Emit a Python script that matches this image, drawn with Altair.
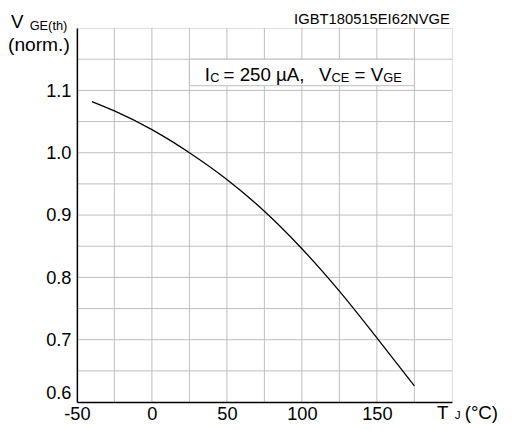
import altair as alt
import pandas as pd

# Curve data
temps = [-40, -25, 0, 25, 50, 75, 100, 125, 150, 175]
vth_norm = [1.082, 1.067, 1.037, 1.000, 0.957, 0.906, 0.846, 0.778, 0.703, 0.626]

# Axis ticks (labels) and interior grid lines
x_ticks = [-50, 0, 50, 100, 150]
y_ticks = [0.6, 0.7, 0.8, 0.9, 1.0, 1.1]
x_grid = [-25, 0, 25, 50, 75, 100, 125, 150, 175]
y_grid = [0.65, 0.7, 0.75, 0.8, 0.85, 0.9, 0.95, 1.0, 1.05, 1.1, 1.15]

# Condition box (data coords)
box_x = [25]
box_x2 = [175]
box_y = [1.1075]
box_y2 = [1.15]

FONT = "Liberation Sans"
GRID = "#bdbdbd"

df = pd.DataFrame({"T": temps, "V": vth_norm})
box_df = pd.DataFrame({"T": box_x, "T2": box_x2, "V": box_y, "V2": box_y2})
xg_df = pd.DataFrame({"T": x_grid})
yg_df = pd.DataFrame({"V": y_grid})

x_scale = alt.Scale(domain=[-50, 200], nice=False, zero=False)
y_scale = alt.Scale(domain=[0.6, 1.2], nice=False, zero=False)

x_axis = alt.Axis(
    values=x_ticks,
    labelExpr="datum.value < 0 ? '-' + format(-datum.value, 'd') : format(datum.value, 'd')",
    title=None, grid=False, ticks=False, domainColor="black", domainWidth=1.5,
    labelFont=FONT, labelFontSize=18.5, labelColor="black", labelPadding=3,
    labelOverlap=False, labelFlush=False, zindex=1,
)
y_axis = alt.Axis(
    values=y_ticks, format=".1f",
    title=None, grid=False, ticks=False, domainColor="black", domainWidth=1.5,
    labelFont=FONT, labelFontSize=18.5, labelColor="black", labelPadding=6,
    labelOverlap=False, labelFlush=True, zindex=1,
)

X = alt.X("T:Q", scale=x_scale, axis=x_axis)
Y = alt.Y("V:Q", scale=y_scale, axis=y_axis)

xgrid = alt.Chart(xg_df).mark_rule(color=GRID, strokeWidth=1).encode(x=X)
ygrid = alt.Chart(yg_df).mark_rule(color=GRID, strokeWidth=1).encode(y=Y)

box = alt.Chart(box_df).mark_rect(fill="white", stroke=GRID, strokeWidth=1).encode(
    x=X, x2="T2:Q", y=Y, y2="V2:Q",
)

line = alt.Chart(df).mark_line(color="black", strokeWidth=1.3, interpolate="monotone").encode(
    x=X, y=Y,
)


def txt(s, x, y, size, align="left"):
    return alt.Chart(alt.Data(values=[{}])).mark_text(
        text=s, font=FONT, fontSize=size, align=align, baseline="alphabetic", color="black"
    ).encode(x=alt.value(x), y=alt.value(y))


texts = [
    txt("V", -67, 0, 19),
    txt("GE(th)", -48, 2, 13),
    txt("(norm.)", -70, 23, 19.5),
    txt("IGBT180515EI62NVGE", 379, -4, 15, align="right"),
    txt("I", 130, 54, 19),
    txt("C", 135.5, 55, 13),
    txt("= 250 µA,", 149, 54, 19),
    txt("V", 246, 54, 19),
    txt("CE", 258.7, 55, 13),
    txt("=", 282, 54, 19),
    txt("V", 298.5, 54, 19),
    txt("GE", 311.2, 55, 13),
    txt("T", 366, 397, 19),
    txt("J", 384, 397, 12),
    txt("(°C)", 394, 397, 19),
]

chart = alt.layer(xgrid, ygrid, box, line, *texts).properties(
    width=381,
    height=380,
    autosize=alt.AutoSizeParams(type="none"),
    padding={"left": 70, "top": 17, "right": 56, "bottom": 24},
).configure_view(
    stroke="#444444", strokeWidth=1.2
).configure(background="white")

chart.save("out.html", embed_options={"renderer": "svg", "actions": False})
